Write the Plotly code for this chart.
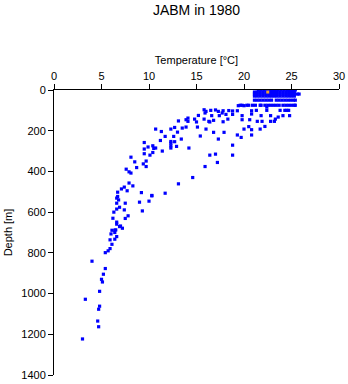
import plotly.graph_objects as go

# Deep profile + thermocline measurements (temperature [°C], depth [m])
profile_temp = [
    10.7, 11.3, 12.3, 12.7, 13.0, 13.1, 13.4, 13.5, 13.9, 13.9, 14.1, 14.8, 15.0, 15.2, 15.1,
    15.4, 15.8, 15.9, 16.0, 16.3, 16.4, 16.0, 16.6, 16.8, 16.8, 17.3, 17.3, 17.4, 17.7, 17.8,
    17.8, 17.9, 18.1, 18.3, 18.8, 18.8, 18.8, 19.3, 19.3, 19.4, 19.8, 19.8, 19.7, 20.0, 20.0,
    20.6, 20.5, 20.8, 20.8, 20.8, 20.8, 21.3, 21.4, 21.7, 21.8, 21.9, 22.2, 22.4, 22.4, 22.8,
    22.8, 23.2, 23.3, 23.6, 23.8, 24.1, 24.3, 24.5, 24.8, 24.7, 18.8, 16.4, 17.0, 17.2, 15.9,
    14.6, 13.1, 11.7, 10.3, 10.4, 10.7, 11.4, 12.3, 12.3, 12.9, 14.2, 12.6, 11.7, 11.2, 10.1,
    10.4, 12.7, 12.3, 12.3, 14.1, 15.8, 16.5, 17.0, 18.4,
    9.5, 9.9, 10.5, 9.5, 9.5, 9.7, 9.4, 9.7, 8.1, 8.5, 8.7, 7.6, 7.9, 8.1, 7.9, 8.3, 7.4,
    7.1, 7.7, 6.7, 6.7, 6.6, 6.8, 6.6, 7.5, 9.2, 9.0, 10.0, 10.3, 9.3, 6.6, 6.9, 7.4, 6.3,
    7.8, 7.5, 6.2, 6.6, 6.6, 6.9, 7.2, 6.5, 6.1,
    7.0, 6.4, 6.0, 6.4, 6.6, 6.4, 5.9, 6.1, 5.9, 5.7, 5.4, 4.0, 5.4, 5.2, 5.0, 5.1, 4.8,
    3.3, 4.8, 4.7, 4.6, 4.7, 3.0,
]
profile_depth = [
    192, 204, 192, 184, 207, 152, 241, 187, 182, 146, 138, 143, 157, 125, 182,
    226, 143, 113, 105, 154, 157, 192, 126, 149, 208, 105, 241, 126, 113, 102,
    156, 208, 120, 143, 103, 120, 271, 102, 221, 77, 146, 126, 233, 192, 77,
    146, 180, 195, 221, 102, 118, 100, 154, 192, 126, 154, 179, 100, 84, 154,
    126, 154, 143, 133, 100, 126, 100, 100, 126, 100, 320, 320, 315, 356, 376,
    430, 461, 507, 520, 274, 285, 300, 253, 274, 277, 285, 228, 228, 248, 320,
    307, 254, 261, 285, 154, 97, 100, 98, 101,
    258, 280, 287, 290, 313, 349, 363, 376, 330, 353, 381, 389, 402, 408, 457, 471, 477,
    486, 495, 502, 523, 531, 540, 556, 556, 504, 551, 546, 518, 594, 585, 576, 589, 600,
    618, 631, 630, 649, 659, 671, 679, 687, 689,
    668, 700, 707, 689, 720, 733, 736, 758, 779, 790, 799, 841, 877, 905, 930, 943, 989,
    1028, 1062, 1077, 1135, 1163, 1223,
]

# Surface layer rows (many stations at standard depths)
surf_0_temp = [21.5, 21.8, 22.1, 22.4, 22.7, 23.0, 23.3, 23.6, 23.9, 24.2, 24.5, 24.8, 25.1, 25.4]
surf_10_temp = [21.1, 21.4, 21.7, 22.0, 22.3, 22.6, 22.9, 23.2, 23.5, 23.8, 24.1, 24.4, 24.7, 25.0, 25.3]
surf_20_temp = [21.1, 21.4, 21.7, 22.0, 22.3, 22.6, 22.9, 23.2, 23.5, 23.8, 24.1, 24.4, 24.7, 25.0, 25.3, 25.6, 25.8]
surf_30_temp = [21.1, 21.4, 21.7, 22.0, 22.3, 22.6, 22.9, 23.2, 23.5, 23.8, 24.1, 24.4, 24.7, 25.0, 25.3]
surf_50_temp = [21.1, 21.4, 21.7, 22.0, 22.3, 22.6, 22.9, 23.4, 23.7, 24.0, 24.3, 24.6, 24.9, 25.2, 25.4]
surf_75_temp = [19.6, 19.8, 20.3, 20.5, 20.9, 21.2, 21.7, 21.8, 22.2, 22.5, 22.8, 23.1, 23.4, 23.7,
                24.1, 24.4, 24.7, 25.0, 25.3, 25.4]

highlight_temp = [22.5]
highlight_depth = [10]

surf_temp = surf_0_temp + surf_10_temp + surf_20_temp + surf_30_temp + surf_50_temp + surf_75_temp
surf_depth = ([0] * len(surf_0_temp) + [10] * len(surf_10_temp) + [20] * len(surf_20_temp)
              + [30] * len(surf_30_temp) + [50] * len(surf_50_temp) + [75] * len(surf_75_temp))

all_temp = profile_temp + surf_temp
all_depth = profile_depth + surf_depth

fig = go.Figure()
fig.add_trace(go.Scatter(
    x=all_temp, y=all_depth, mode="markers",
    marker=dict(symbol="square", size=3.2, color="#0000ff", line=dict(width=0)),
    showlegend=False, hoverinfo="x+y",
))
fig.add_trace(go.Scatter(
    x=highlight_temp, y=highlight_depth, mode="markers",
    marker=dict(symbol="square", size=3, color="#f0a030", line=dict(width=0)),
    showlegend=False,
))

font = "Liberation Sans, Arial, sans-serif"
fig.update_layout(
    width=348, height=384,
    margin=dict(l=54, r=9, t=90, b=9, autoexpand=False),
    paper_bgcolor="white", plot_bgcolor="white",
    font=dict(family=font, size=11, color="black"),
    title=dict(text="JABM in 1980", x=0.5, xref="paper", y=0.975, yanchor="middle",
               font=dict(size=14, family=font, color="black")),
    xaxis=dict(
        side="top", range=[0, 30], tickmode="array", tickvals=[0, 5, 10, 15, 20, 25, 30],
        ticks="outside", ticklen=5, tickcolor="black", showline=True, linecolor="black",
        linewidth=1, showgrid=False, zeroline=False, automargin=False,
        title=dict(text="Temperature [°C]", font=dict(size=11), standoff=2),
        tickfont=dict(size=11),
    ),
    yaxis=dict(
        range=[1400, 0], tickmode="array", tickvals=[0, 200, 400, 600, 800, 1000, 1200, 1400],
        ticks="outside", ticklen=5, tickcolor="black", showline=True, linecolor="black",
        linewidth=1, showgrid=False, zeroline=False, automargin=False,
        title=dict(text="Depth [m]", font=dict(size=11), standoff=6),
        tickfont=dict(size=11),
    ),
)

fig.write_html("out.html")
